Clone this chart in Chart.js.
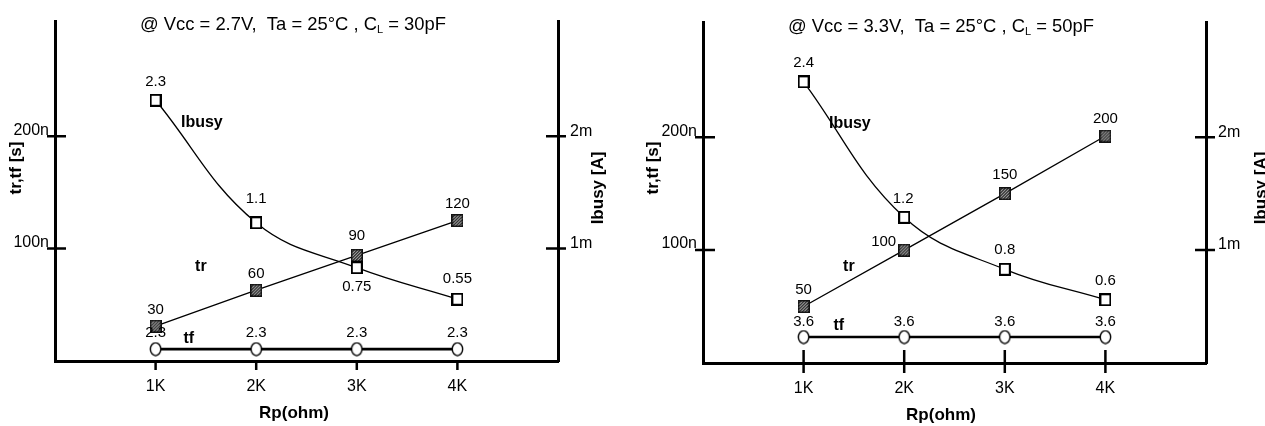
<!DOCTYPE html>
<html>
<head>
<meta charset="utf-8">
<script src="https://cdn.jsdelivr.net/npm/chart.js@4.4.1/dist/chart.umd.min.js"></script>
<style>
  html, body { margin: 0; padding: 0; background: #fff; }
  #wrap { position: relative; width: 1265px; height: 426px; overflow: hidden; }
  #left { position: absolute; left: 0; top: 0; }
  #right { position: absolute; left: 632px; top: 0; }
</style>
</head>
<body>
<div id="wrap">
  <canvas id="left" width="632" height="426"></canvas>
  <canvas id="right" width="633" height="426"></canvas>
</div>
<script>
const rpK = [1, 2, 3, 4];
const xTicks = [1, 2, 3, 4];
const yTicksNs = [100, 200];
const y1TicksMA = [1, 2];

// Vcc 2.7V, CL 30pF  (values as drawn; texts as printed next to the marks)
const ibusy27 = [2.32, 1.23, 0.83, 0.55];
const ibusy27Text = ['2.3', '1.1', '0.75', '0.55'];
const tr27 = [31, 63, 94, 125];
const tr27Text = ['30', '60', '90', '120'];
const tf27 = [10.6, 10.6, 10.6, 10.6];
const tf27Text = ['2.3', '2.3', '2.3', '2.3'];

// Vcc 3.3V, CL 50pF
const ibusy33 = [2.49, 1.29, 0.83, 0.56];
const ibusy33Text = ['2.4', '1.2', '0.8', '0.6'];
const tr33 = [50, 100, 150, 201];
const tr33Text = ['50', '100', '150', '200'];
const tf33 = [23, 23, 23, 23];
const tf33Text = ['3.6', '3.6', '3.6', '3.6'];

const FONT = "'Liberation Sans', Arial, sans-serif";

function boxMarker() {
  const c = document.createElement('canvas');
  c.width = 12; c.height = 13;
  const g = c.getContext('2d');
  g.fillStyle = '#fff';
  g.fillRect(1, 1, 10, 11);
  g.strokeStyle = '#000';
  g.lineWidth = 2;
  g.strokeRect(1, 1, 10, 11);
  return c;
}

function hatchMarker() {
  const c = document.createElement('canvas');
  c.width = 12; c.height = 13;
  const g = c.getContext('2d');
  g.fillStyle = '#333';
  g.fillRect(0, 0, 12, 13);
  g.strokeStyle = '#c0c0c0';
  g.lineWidth = 1;
  for (let k = -13; k < 26; k += 3) {
    g.beginPath();
    g.moveTo(k, 13);
    g.lineTo(k + 13, 0);
    g.stroke();
  }
  g.strokeStyle = '#111';
  g.lineWidth = 1.5;
  g.strokeRect(0.75, 0.75, 10.5, 11.5);
  return c;
}

function ovalMarker() {
  const c = document.createElement('canvas');
  c.width = 13; c.height = 15;
  const g = c.getContext('2d');
  g.beginPath();
  g.ellipse(6.5, 7.5, 5.2, 6.4, 0, 0, Math.PI * 2);
  g.fillStyle = '#fff';
  g.fill();
  g.strokeStyle = '#000';
  g.lineWidth = 1.4;
  g.stroke();
  return c;
}

const pts = (arr) => rpK.map((x, i) => ({ x, y: arr[i] }));

const decor = {
  id: 'decor',
  afterDatasetsDraw(chart, args, o) {
    const ctx = chart.ctx;
    ctx.save();
    ctx.fillStyle = '#000';
    ctx.textAlign = 'center';
    ctx.textBaseline = 'middle';
    ctx.font = '15px ' + FONT;
    o.pointTexts.forEach((set, di) => {
      const meta = chart.getDatasetMeta(di);
      meta.data.forEach((el, j) => {
        const off = set.offsets[j];
        ctx.fillText(set.texts[j], el.x + off[0], el.y + off[1]);
      });
    });
    ctx.font = 'bold 16px ' + FONT;
    o.names.forEach(n => {
      const px = chart.scales.x.getPixelForValue(n.x);
      const py = chart.scales[n.axis].getPixelForValue(n.y);
      ctx.fillText(n.text, px, py);
    });
    ctx.restore();
  },
  afterDraw(chart, args, o) {
    const ctx = chart.ctx;
    const { x, y, y1 } = chart.scales;
    const a = chart.chartArea;
    ctx.save();
    ctx.strokeStyle = '#000';
    ctx.lineWidth = 2.5;
    ctx.beginPath();
    x.ticks.forEach(t => {
      const px = x.getPixelForValue(t.value);
      ctx.moveTo(px, a.bottom - o.tick.xIn);
      ctx.lineTo(px, a.bottom + o.tick.xOut);
    });
    y.ticks.forEach(t => {
      const py = y.getPixelForValue(t.value);
      ctx.moveTo(a.left - o.tick.yOut, py);
      ctx.lineTo(a.left + o.tick.yIn, py);
    });
    y1.ticks.forEach(t => {
      const py = y1.getPixelForValue(t.value);
      ctx.moveTo(a.right - o.tick.y1In, py);
      ctx.lineTo(a.right + o.tick.y1Out, py);
    });
    ctx.stroke();

    ctx.fillStyle = '#000';
    // title with subscript L
    ctx.textAlign = 'left';
    ctx.textBaseline = 'alphabetic';
    ctx.font = '18.4px ' + FONT;
    let tx = o.title.x;
    ctx.fillText(o.title.main, tx, o.title.base);
    tx += ctx.measureText(o.title.main).width;
    ctx.font = '11px ' + FONT;
    ctx.fillText(o.title.sub, tx, o.title.base + 3);
    tx += ctx.measureText(o.title.sub).width;
    ctx.font = '18.4px ' + FONT;
    ctx.fillText(o.title.tail, tx, o.title.base);

    // axis titles
    ctx.font = 'bold 17px ' + FONT;
    ctx.textAlign = 'center';
    ctx.fillText(o.xTitle.text, o.xTitle.x, o.xTitle.base);
    ctx.textBaseline = 'middle';
    [o.yTitle, o.y1Title].forEach(t => {
      ctx.save();
      ctx.translate(t.x, t.y);
      ctx.rotate(-Math.PI / 2);
      ctx.fillText(t.text, 0, 0);
      ctx.restore();
    });
    ctx.restore();
  }
};

function panel(id, p) {
  const tickFont = { family: FONT, size: 16 };
  return new Chart(document.getElementById(id), {
    type: 'line',
    data: {
      datasets: [
        {
          data: pts(p.ibusy), yAxisID: 'y1', borderColor: '#000', borderWidth: 1.3,
          tension: 0.4, pointStyle: boxMarker(), pointRadius: 6
        },
        {
          data: pts(p.tr), yAxisID: 'y', borderColor: '#000', borderWidth: 1.3,
          tension: 0, pointStyle: hatchMarker(), pointRadius: 6
        },
        {
          data: pts(p.tf), yAxisID: 'y', borderColor: '#000', borderWidth: 2.6,
          tension: 0, pointStyle: ovalMarker(), pointRadius: 6
        }
      ]
    },
    options: {
      responsive: false,
      animation: false,
      events: [],
      layout: { padding: { top: p.top, left: 0, right: 0, bottom: 0 } },
      plugins: {
        legend: { display: false },
        tooltip: { enabled: false },
        decor: p.decor
      },
      scales: {
        x: {
          type: 'linear', position: 'bottom', min: 0, max: 5,
          afterBuildTicks: s => { s.ticks = xTicks.map(v => ({ value: v })); },
          afterFit: s => { s.height = p.xHeight; },
          grid: { display: false, drawTicks: false },
          border: { display: true, color: '#000', width: 3 },
          ticks: { color: '#000', font: tickFont, padding: p.xPad, callback: v => v + 'K' }
        },
        y: {
          type: 'linear', position: 'left', min: 0, max: p.yMax,
          afterBuildTicks: s => { s.ticks = yTicksNs.map(v => ({ value: v })); },
          afterFit: s => { s.width = p.yWidth; },
          grid: { display: false, drawTicks: false },
          border: { display: true, color: '#000', width: 3 },
          ticks: { color: '#000', font: tickFont, padding: 6, labelOffset: -6, callback: v => v + 'n' }
        },
        y1: {
          type: 'linear', position: 'right', min: 0, max: p.yMax / 100,
          afterBuildTicks: s => { s.ticks = y1TicksMA.map(v => ({ value: v })); },
          afterFit: s => { s.width = p.y1Width; },
          grid: { display: false, drawTicks: false },
          border: { display: true, color: '#000', width: 3 },
          ticks: { color: '#000', font: tickFont, padding: 12, labelOffset: -5, callback: v => v + 'm' }
        }
      }
    },
    plugins: [decor]
  });
}

panel('left', {
  ibusy: ibusy27, tr: tr27, tf: tf27,
  top: 19, xHeight: 65, yWidth: 55, y1Width: 74, yMax: 302, xPad: 16,
  decor: {
    pointTexts: [
      { texts: ibusy27Text, offsets: [[0, -18], [0, -24], [0, 19], [0, -20]] },
      { texts: tr27Text, offsets: [[0, -16], [0, -16], [0, -19.5], [0, -17]] },
      { texts: tf27Text, offsets: [[0, -16], [0, -16], [0, -16], [0, -16]] }
    ],
    names: [
      { text: 'Ibusy', x: 1.46, y: 2.12, axis: 'y1' },
      { text: 'tr', x: 1.45, y: 84, axis: 'y' },
      { text: 'tf', x: 1.33, y: 20, axis: 'y' }
    ],
    tick: { xIn: 0, xOut: 9, yIn: 11, yOut: 8, y1In: 12, y1Out: 8 },
    title: { x: 140, base: 30, main: '@ Vcc = 2.7V,  Ta = 25°C , C', sub: 'L', tail: ' = 30pF' },
    xTitle: { text: 'Rp(ohm)', x: 294, base: 418 },
    yTitle: { text: 'tr,tf [s]', x: 16, y: 168 },
    y1Title: { text: 'Ibusy [A]', x: 598, y: 188 }
  }
});

panel('right', {
  ibusy: ibusy33, tr: tr33, tf: tf33,
  top: 22, xHeight: 63, yWidth: 71, y1Width: 59, yMax: 302, xPad: 16,
  decor: {
    pointTexts: [
      { texts: ibusy33Text, offsets: [[0, -18.5], [-1, -18.5], [0, -19.5], [0, -18.5]] },
      { texts: tr33Text, offsets: [[0, -17], [-20.5, -8.5], [0, -19], [0, -17]] },
      { texts: tf33Text, offsets: [[0, -15], [0, -15], [0, -15], [0, -15]] }
    ],
    names: [
      { text: 'Ibusy', x: 1.46, y: 2.12, axis: 'y1' },
      { text: 'tr', x: 1.45, y: 85, axis: 'y' },
      { text: 'tf', x: 1.35, y: 33, axis: 'y' }
    ],
    tick: { xIn: 13, xOut: 10, yIn: 12, yOut: 8, y1In: 11, y1Out: 9 },
    title: { x: 156, base: 31.5, main: '@ Vcc = 3.3V,  Ta = 25°C , C', sub: 'L', tail: ' = 50pF' },
    xTitle: { text: 'Rp(ohm)', x: 309, base: 420 },
    yTitle: { text: 'tr,tf [s]', x: 21, y: 168 },
    y1Title: { text: 'Ibusy [A]', x: 629, y: 188 }
  }
});
</script>
</body>
</html>
